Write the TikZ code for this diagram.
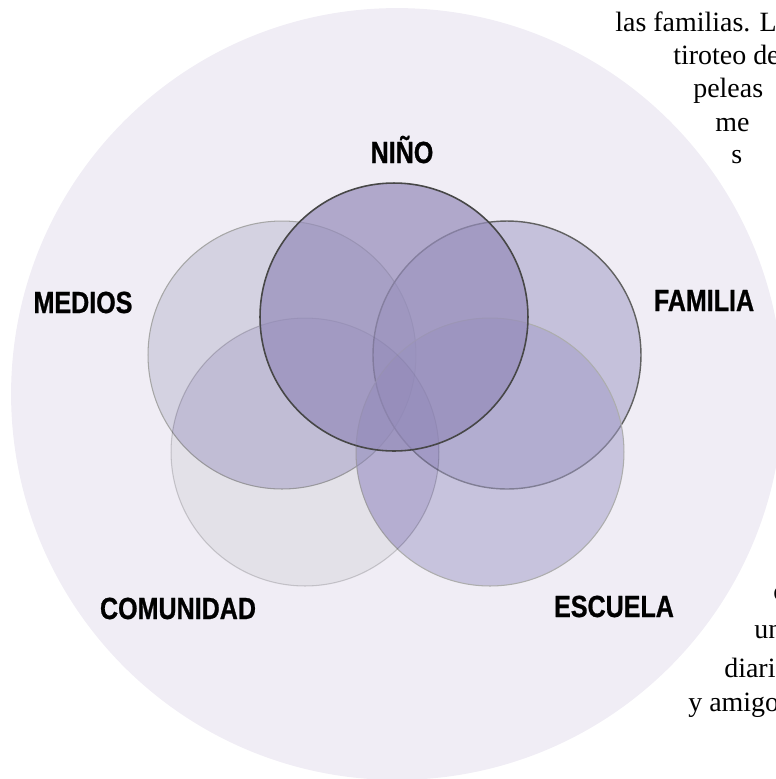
\documentclass[tikz,border=0pt]{standalone}
\usepackage{fontspec}
\setmainfont{Liberation Serif}
\newfontfamily\rotulofont[FakeStretch=0.82,BoldFeatures={FakeBold=0.8}]{Liberation Sans}
\definecolor{fondo}{RGB}{240,237,245}
\definecolor{medios}{RGB}{186,185,207}
\definecolor{familia}{RGB}{156,151,195}
\definecolor{escuela}{RGB}{160,155,199}
\definecolor{comunidad}{RGB}{242,243,242}
\definecolor{tinte}{RGB}{246,241,255}
\definecolor{nino}{RGB}{149,140,186}
\begin{document}
\begin{tikzpicture}[x=0.02cm,y=-0.02cm]
        \tikzstyle{esfera}=[circle,inner sep=0pt,minimum size=5.36cm,line width=0.6pt]
        \tikzstyle{rotulo}=[font=\rotulofont\bfseries\fontsize{17.4}{20}\selectfont,anchor=base,inner sep=0pt]
        \tikzstyle{texto}=[font=\fontsize{15.9}{19}\selectfont,anchor=base west,inner sep=0pt]
        \useasboundingbox (0,0) rectangle (776,779);
        \clip (0,0) rectangle (776,779);
        \node [circle,inner sep=0pt,minimum size=15.44cm,fill=fondo] (ambito) at (397,394) {};
        \begin{scope}
           \node [esfera,fill=medios,fill opacity=0.5,draw=black!35] (medios) at (282,355) {};
           \node [esfera,fill=familia,fill opacity=0.5,draw=black!62,line width=0.8pt] (familia) at (507,355) {};
           \node [esfera,fill=escuela,fill opacity=0.5,draw=black!32] (escuela) at (490,452) {};
        \end{scope}
        \begin{scope}[blend mode=multiply]
           \node [esfera,fill=comunidad,draw=black!16] (comunidad) at (305,452) {};
           \clip (comunidad.center) circle [radius=134];
           \fill [tinte] (medios.center) circle [radius=134] (escuela.center) circle [radius=134];
        \end{scope}
        \node [esfera,fill=nino,fill opacity=0.7,draw=black!72,line width=0.9pt] (nino) at (394,317) {};
        \node [rotulo] (lnino) at (402,163) {NIÑO};
        \node [rotulo] (lmedios) at (83,313) {MEDIOS};
        \node [rotulo] (lfamilia) at (704,311) {FAMILIA};
        \node [rotulo] (lcomunidad) at (178,619) {COMUNIDAD};
        \node [rotulo] (lescuela) at (614,617) {ESCUELA};
        \node [texto] (t1) at (615,31) {las familias. La};
        \node [texto] (t2) at (673,64) {tiroteo de};
        \node [texto] (t3) at (693,97) {peleas};
        \node [texto] (t4) at (715,131) {me};
        \node [texto] (t5) at (731,163) {s};
        \node [texto] (t6) at (773,600) {c};
        \node [texto] (t7) at (754,638) {un};
        \node [texto] (t8) at (724,677) {diari};
        \node [texto] (t9) at (688,711) {y amigo};
      \end{tikzpicture}
\end{document}
